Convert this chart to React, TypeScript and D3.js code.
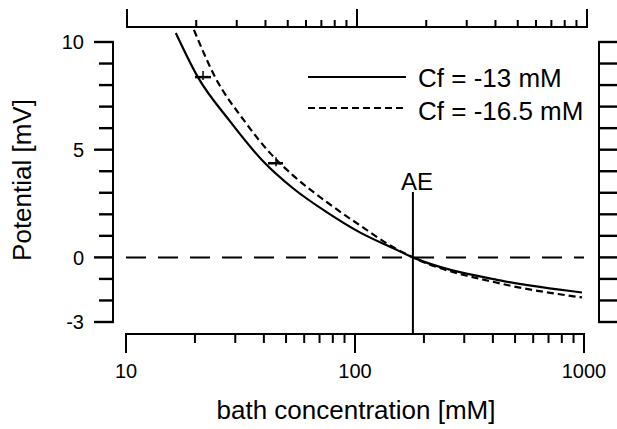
import React from "react";
import * as d3 from "d3";

const solidConc = [16.5, 20.6, 28.2, 39.3, 53.6, 75.5, 105, 147, 179, 430, 980];
const solidV = [10.42, 8.37, 6.37, 4.51, 3.21, 2.09, 1.16, 0.42, 0, -1.07, -1.63];
const dashedConc = [19.8, 24.5, 32.7, 42.6, 53.6, 75.5, 105, 147, 179, 430, 980];
const dashedV = [10.56, 8.37, 6.37, 4.84, 3.81, 2.56, 1.49, 0.47, 0, -1.21, -1.86];
const errConc = [21.7, 45.2];
const errLow = [20.0, 41.7];
const errHigh = [23.5, 48.5];
const errV = [8.37, 4.37];
const aeConc = 179;
const xTickLabels = [10, 100, 1000];
const yTickLabels = [10, 5, 0, -3];
const legendLabels = ["Cf = -13 mM", "Cf = -16.5 mM"];

const FONT = "'Liberation Sans', Arial, Helvetica, sans-serif";

export default function App() {
  const x = d3.scaleLog().domain([10, 1000]).range([126, 584]);
  const xTop = d3.scaleLog().domain([10, 1000]).range([127, 587]);
  const y = d3.scaleLinear().domain([-3, 10]).range([322, 42]);
  const yTicks = d3.range(-3, 11, 1);
  const minorX: number[] = [];
  for (const dec of [10, 100]) for (let k = 2; k <= 9; k++) minorX.push(dec * k);

  const line = d3
    .line<[number, number]>()
    .x((d) => x(d[0]))
    .y((d) => y(d[1]))
    .curve(d3.curveMonotoneX);
  const solidPath = line(solidConc.map((c, i) => [c, solidV[i]]) as [number, number][]) || "";
  const dashedPath = line(dashedConc.map((c, i) => [c, dashedV[i]]) as [number, number][]) || "";

  const sw = 2;
  return (
    <svg width={617} height={429} style={{ position: "absolute", left: 0, top: 0, background: "#fff" }} fontFamily={FONT}>
      <rect x={0} y={0} width={617} height={429} fill="#fff" />
      {/* bottom axis */}
      <line x1={x(10)} x2={x(1000)} y1={334} y2={334} stroke="#000" strokeWidth={sw} />
      {xTickLabels.map((t) => (
        <g key={"bx" + t}>
          <line x1={x(t)} x2={x(t)} y1={333} y2={353} stroke="#000" strokeWidth={sw} />
          <text x={x(t)} y={378} fontSize={20} textAnchor="middle">{t}</text>
        </g>
      ))}
      {minorX.map((t) => (
        <line key={"bm" + t} x1={x(t)} x2={x(t)} y1={333} y2={343} stroke="#000" strokeWidth={sw} />
      ))}
      <text x={356} y={419} fontSize={26} textAnchor="middle">bath concentration [mM]</text>

      {/* top axis */}
      <line x1={xTop(10)} x2={xTop(1000)} y1={27} y2={27} stroke="#000" strokeWidth={sw} />
      {xTickLabels.map((t) => (
        <line key={"tx" + t} x1={xTop(t)} x2={xTop(t)} y1={28} y2={9} stroke="#000" strokeWidth={sw} />
      ))}
      {minorX.map((t) => (
        <line key={"tm" + t} x1={xTop(t)} x2={xTop(t)} y1={28} y2={20} stroke="#000" strokeWidth={sw} />
      ))}

      {/* left axis */}
      <line x1={113} x2={113} y1={y(10)} y2={y(-3)} stroke="#000" strokeWidth={sw} />
      {yTicks.map((t) => (
        <line key={"ly" + t} x1={yTickLabels.includes(t) ? 94 : 99} x2={114} y1={y(t)} y2={y(t)} stroke="#000" strokeWidth={2.4} />
      ))}
      {yTickLabels.map((t) => (
        <text key={"lt" + t} x={84} y={y(t)} dy="0.36em" fontSize={20} textAnchor="end">{t}</text>
      ))}
      <text transform={`translate(31,180) rotate(-90)`} fontSize={26} textAnchor="middle">Potential [mV]</text>

      {/* right axis */}
      <line x1={599} x2={599} y1={y(10)} y2={y(-3)} stroke="#000" strokeWidth={sw} />
      {yTicks.map((t) => (
        <line key={"ry" + t} x1={598} x2={620} y1={y(t)} y2={y(t)} stroke="#000" strokeWidth={2.4} />
      ))}

      {/* zero line */}
      <line x1={x(10)} x2={x(1000)} y1={y(0)} y2={y(0)} stroke="#000" strokeWidth={2} strokeDasharray="20,12" />

      {/* AE */}
      <line x1={x(aeConc)} x2={x(aeConc)} y1={192} y2={335} stroke="#000" strokeWidth={2} />
      <text x={x(aeConc) + 4} y={190} fontSize={24} textAnchor="middle">AE</text>

      {/* curves */}
      <path d={solidPath} fill="none" stroke="#000" strokeWidth={2.2} />
      <path d={dashedPath} fill="none" stroke="#000" strokeWidth={2.2} strokeDasharray="7,4" />

      {/* error bars */}
      {errConc.map((c, i) => (
        <g key={"e" + i}>
          <line x1={x(errLow[i])} x2={x(errHigh[i])} y1={y(errV[i])} y2={y(errV[i])} stroke="#000" strokeWidth={2.5} />
          <line x1={x(c)} x2={x(c)} y1={y(errV[i]) - 6} y2={y(errV[i]) + 3} stroke="#000" strokeWidth={1.5} />
        </g>
      ))}

      {/* legend */}
      <line x1={308} x2={406} y1={77} y2={77} stroke="#000" strokeWidth={2.2} />
      <text x={418} y={87} fontSize={26}>{legendLabels[0]}</text>
      <line x1={308} x2={406} y1={108} y2={108} stroke="#000" strokeWidth={2.2} strokeDasharray="7,4" />
      <text x={418} y={120} fontSize={26}>{legendLabels[1]}</text>
    </svg>
  );
}
